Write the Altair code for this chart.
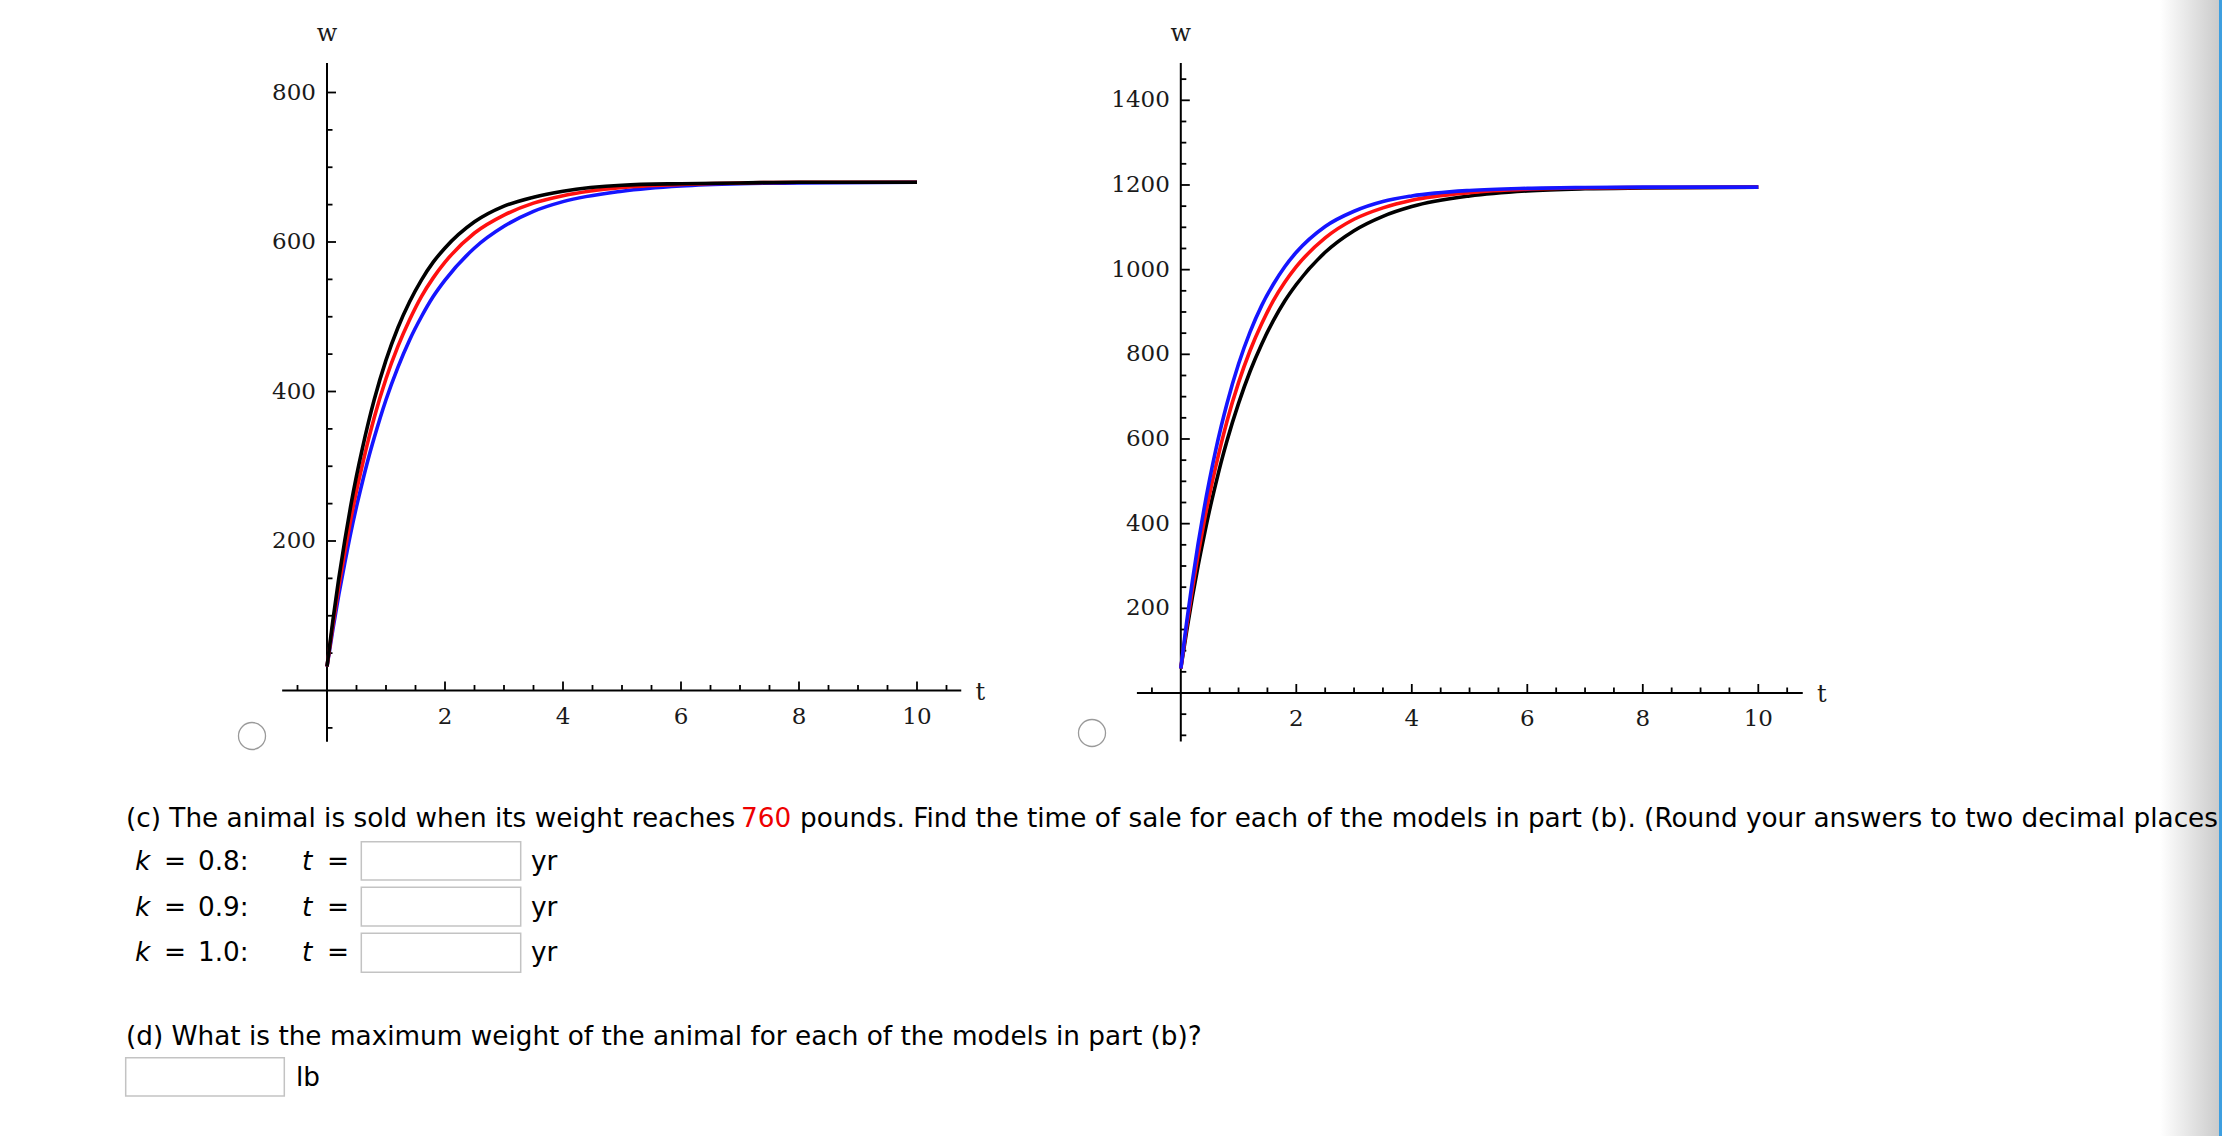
import altair as alt
import pandas as pd

W, H = 2222, 1136

# ---------------- data ----------------
t_vals = [0, 0.1, 0.2, 0.3, 0.4, 0.5, 0.6, 0.7, 0.8, 1.0, 1.2, 1.4, 1.6, 1.8,
          2.0, 2.5, 3.0, 3.5, 4.0, 5.0, 6.0, 7.0, 8.0, 10.0]
left_black = [32, 94, 150, 200, 246, 287, 324, 358, 389, 442, 485, 520, 549, 573,
              592, 627, 648, 660, 668, 676, 678, 679, 680, 680]
left_red = [32, 88, 139, 185, 228, 267, 302, 335, 365, 417, 460, 496, 527, 552,
            573, 612, 636, 652, 662, 673, 677, 679, 680, 680]
left_blue = [32, 82, 128, 170, 210, 246, 279, 310, 338, 389, 432, 469, 500, 527,
             549, 592, 621, 641, 654, 668, 675, 678, 679, 680]
right_blue = [58, 166, 264, 353, 433, 505, 571, 630, 684, 777, 853, 915, 965, 1007,
              1041, 1102, 1138, 1161, 1174, 1187, 1192, 1194, 1195, 1195]
right_red = [58, 156, 245, 327, 402, 470, 532, 589, 642, 733, 809, 872, 926, 970,
             1007, 1075, 1119, 1146, 1164, 1182, 1190, 1193, 1194, 1195]
right_black = [58, 145, 226, 301, 369, 433, 491, 546, 596, 684, 760, 824, 879, 926,
               965, 1041, 1092, 1126, 1149, 1174, 1186, 1191, 1193, 1195]

x_ticks_minor = [-0.5, 0.5, 1, 1.5, 2.5, 3, 3.5, 4.5, 5, 5.5, 6.5, 7, 7.5, 8.5, 9, 9.5, 10.5]
x_ticks_major = [2, 4, 6, 8, 10]
x_tick_labels = ["2", "4", "6", "8", "10"]

left_y_minor = [-50, 50, 100, 150, 250, 300, 350, 450, 500, 550, 650, 700, 750]
left_y_major = [200, 400, 600, 800]
left_y_labels = ["200", "400", "600", "800"]

right_y_minor = [-100, -50, 50, 100, 150, 250, 300, 350, 450, 500, 550, 650, 700, 750,
                 850, 900, 950, 1050, 1100, 1150, 1250, 1300, 1350, 1450]
right_y_major = [200, 400, 600, 800, 1000, 1200, 1400]
right_y_labels = ["200", "400", "600", "800", "1000", "1200", "1400"]

txt_c1 = "(c) The animal is sold when its weight reaches"
txt_c_num = "760"
txt_c2 = "pounds. Find the time of sale for each of the models in part (b). (Round your answers to two decimal places"
k_values = ["0.8:", "0.9:", "1.0:"]
txt_d = "(d) What is the maximum weight of the animal for each of the models in part (b)?"
unit_yr = "yr"
unit_lb = "lb"

SERIF = "DejaVu Serif"
SANS = "DejaVu Sans"
one = pd.DataFrame({"k": [0]})

# ---------------- panels ----------------
panels = [
    dict(xdom=[-327 / 59, (W - 327) / 59], ydom=[(690.5 - H) / 0.7475, 690.5 / 0.7475],
         xmin=-0.76, xmax=10.75, ymin=-68.4, ymax=839.5,
         ymin_ticks=left_y_minor, ymaj_ticks=left_y_major, ylabels=left_y_labels,
         curves=[("#1515ff", left_blue), ("#ff1010", left_red), ("#000000", left_black)],
         radio=(252, 736)),
    dict(xdom=[-1180.8 / 57.75, (W - 1180.8) / 57.75], ydom=[(693 - H) / 0.42335, 693 / 0.42335],
         xmin=-0.76, xmax=10.77, ymin=-114.8, ymax=1488,
         ymin_ticks=right_y_minor, ymaj_ticks=right_y_major, ylabels=right_y_labels,
         curves=[("#000000", right_black), ("#ff1010", right_red), ("#1515ff", right_blue)],
         radio=(1092, 733)),
]


def panel_layers(p):
    xs = alt.Scale(domain=p["xdom"], nice=False, zero=False)
    ys = alt.Scale(domain=p["ydom"], nice=False, zero=False)

    def XD(v):
        return alt.XDatum(v, type="quantitative", scale=xs, axis=None)

    def YD(v):
        return alt.YDatum(v, type="quantitative", scale=ys, axis=None)

    L = []
    base = alt.Chart(one)
    # axis lines
    L.append(base.mark_rule(color="black", strokeWidth=2).encode(
        x=XD(0), y=YD(p["ymin"]), y2=alt.Y2Datum(p["ymax"])))
    L.append(base.mark_rule(color="black", strokeWidth=2).encode(
        y=YD(0), x=XD(p["xmin"]), x2=alt.X2Datum(p["xmax"])))
    # y ticks (pointing right)
    for vals, ln in ((p["ymin_ticks"], 5.5), (p["ymaj_ticks"], 9)):
        L.append(alt.Chart(pd.DataFrame({"w": vals})).mark_rule(
            color="black", strokeWidth=1.8, x2Offset=ln).encode(
            x=XD(0), x2=alt.X2Datum(0), y=alt.Y("w:Q", scale=ys, axis=None)))
    # x ticks (pointing up)
    for vals, ln in ((x_ticks_minor, 5.5), (x_ticks_major, 9)):
        L.append(alt.Chart(pd.DataFrame({"t": vals})).mark_rule(
            color="black", strokeWidth=1.8, y2Offset=-ln).encode(
            y=YD(0), y2=alt.Y2Datum(0), x=alt.X("t:Q", scale=xs, axis=None)))
    # tick labels
    L.append(alt.Chart(pd.DataFrame({"w": p["ymaj_ticks"], "lab": p["ylabels"]})).mark_text(
        align="right", baseline="middle", dx=-11, font=SERIF, fontSize=23, color="#1a1a1a").encode(
        x=XD(0), y=alt.Y("w:Q", scale=ys, axis=None), text="lab:N"))
    L.append(alt.Chart(pd.DataFrame({"t": x_ticks_major, "lab": x_tick_labels})).mark_text(
        align="center", baseline="middle", dy=26, font=SERIF, fontSize=23, color="#1a1a1a").encode(
        y=YD(0), x=alt.X("t:Q", scale=xs, axis=None), text="lab:N"))
    # axis names
    L.append(base.mark_text(align="center", baseline="middle", font=SERIF, fontSize=24,
                            dy=-29, text="w", color="#1a1a1a").encode(
        x=XD(0), y=YD(p["ymax"])))
    L.append(base.mark_text(align="center", baseline="middle", font=SERIF, fontSize=24,
                            dx=19, dy=2, text="t", color="#1a1a1a").encode(
        x=XD(p["xmax"]), y=YD(0)))
    # curves
    for col, vals in p["curves"]:
        df = pd.DataFrame({"t": t_vals, "w": vals})
        L.append(alt.Chart(df).mark_line(color=col, strokeWidth=3.6, interpolate="monotone").encode(
            x=alt.X("t:Q", scale=xs, axis=None), y=alt.Y("w:Q", scale=ys, axis=None)))
    # radio button
    rx, ry = p["radio"]
    L.append(base.mark_point(shape="circle", size=730, filled=True, fill="white", opacity=1,
                             stroke="#9a9a9a", strokeWidth=1.3).encode(
        x=alt.value(rx), y=alt.value(ry)))
    return L


layers = []
# right-edge gradient strip
layers.append(alt.Chart(one).mark_rect(
    fill=alt.LinearGradient(gradient="linear", x1=0, x2=1, y1=0, y2=0,
                            stops=[alt.GradientStop(color="#ffffff", offset=0),
                                   alt.GradientStop(color="#cbcbcb", offset=1)])).encode(
    x=alt.value(2160), x2=alt.value(2219), y=alt.value(0), y2=alt.value(H)))
layers.append(alt.Chart(one).mark_rect(color="#3d9fe0").encode(
    x=alt.value(2219), x2=alt.value(W), y=alt.value(0), y2=alt.value(H)))

for p in panels:
    layers += panel_layers(p)


def txt(s, x, y, color="black", style="normal", size=26.3):
    return alt.Chart(one).mark_text(text=s, align="left", baseline="alphabetic", font=SANS,
                                    fontSize=size, color=color, fontStyle=style).encode(
        x=alt.value(x), y=alt.value(y))


def box(x1, x2, y1, y2):
    return alt.Chart(one).mark_rect(fill="white", stroke="#c3c3c3", strokeWidth=1.5).encode(
        x=alt.value(x1), x2=alt.value(x2), y=alt.value(y1), y2=alt.value(y2))


layers.append(txt(txt_c1, 126, 827))
layers.append(txt(txt_c_num, 741, 827, color="#ee0000"))
layers.append(txt(txt_c2, 800, 827))

row_base = [870, 915.5, 961]
box_y = [(841.7, 880), (887.3, 926), (933.3, 972.3)]
for kv, yb, (b1, b2) in zip(k_values, row_base, box_y):
    layers.append(txt("k", 135, yb, style="italic"))
    layers.append(txt("=", 164, yb))
    layers.append(txt(kv, 198, yb))
    layers.append(txt("t", 302, yb, style="italic"))
    layers.append(txt("=", 327, yb))
    layers.append(box(361.3, 520.7, b1, b2))
    layers.append(txt(unit_yr, 531, yb))

layers.append(txt(txt_d, 126, 1045))
layers.append(box(125.7, 284.3, 1057.7, 1096))
layers.append(txt(unit_lb, 296, 1086))

chart = alt.layer(*layers).resolve_scale(x="independent", y="independent").properties(
    width=W, height=H, padding=0, autosize="none", background="white"
).configure_view(stroke=None)

chart.save("out.html", embed_options={"renderer": "svg", "actions": False})
